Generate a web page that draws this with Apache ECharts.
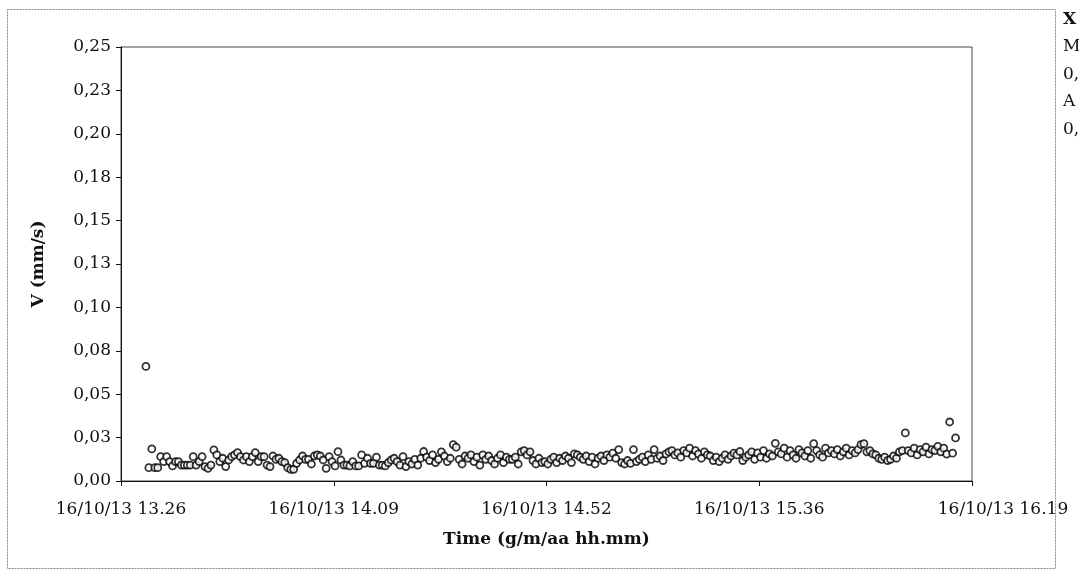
<!DOCTYPE html>
<html>
<head>
<meta charset="utf-8">
<script src="https://cdn.jsdelivr.net/npm/echarts@6/dist/echarts.min.js"></script>
<style>
html,body{margin:0;padding:0;background:#fff;}
#chart{width:1079px;height:570px;}
</style>
</head>
<body>
<div id="chart"></div>
<script>
// Tick labels
const yTickLabels = ['0,00','0,03','0,05','0,08','0,10','0,13','0,15','0,18','0,20','0,23','0,25'];
const xTickLabels = ['16/10/13 13.26','16/10/13 14.09','16/10/13 14.52','16/10/13 15.36','16/10/13 16.19'];
const sideLabels = ['X','M','0,','A','0,'];

// Sampling grid: minutes after 16/10/13 13:26:24
const sampleStartMin = 5.06;
const sampleStepMin = 0.6;

// Velocity samples V (mm/s)
const velocity = [
 0.0660,0.0077,0.0185,0.0077,0.0077,0.0140,0.0112,0.0140,0.0112,0.0087,
 0.0112,0.0112,0.0092,0.0092,0.0092,0.0092,0.0140,0.0092,0.0112,0.0140,
 0.0083,0.0073,0.0092,0.0179,0.0150,0.0112,0.0131,0.0083,0.0121,0.0140,
 0.0150,0.0164,0.0140,0.0121,0.0140,0.0112,0.0140,0.0164,0.0112,0.0140,
 0.0140,0.0092,0.0083,0.0144,0.0125,0.0131,0.0112,0.0106,0.0077,0.0067,
 0.0067,0.0102,0.0121,0.0144,0.0125,0.0125,0.0098,0.0144,0.0150,0.0144,
 0.0121,0.0073,0.0140,0.0112,0.0087,0.0169,0.0121,0.0092,0.0092,0.0087,
 0.0112,0.0087,0.0087,0.0150,0.0102,0.0131,0.0102,0.0102,0.0137,0.0092,
 0.0092,0.0087,0.0106,0.0121,0.0131,0.0112,0.0092,0.0140,0.0083,
 0.0112,0.0098,0.0125,0.0092,0.0131,0.0170,0.0137,0.0118,0.0150,0.0106,
 0.0125,0.0168,0.0144,0.0112,0.0131,
 0.0210,0.0195,0.0125,
 0.0098,0.0144,0.0131,0.0150,0.0112,0.0137,0.0092,0.0150,0.0125,0.0144,
 0.0118,0.0098,0.0131,0.0150,0.0106,0.0137,0.0125,0.0125,0.0137,0.0098,
 0.0168,0.0175,0.0150,0.0168,
 0.0118,0.0098,0.0131,0.0106,
 0.0112,0.0098,0.0125,0.0137,0.0106,0.0131,0.0118,0.0144,0.0131,0.0106,
 0.0156,0.0150,0.0137,
 0.0125,0.0144,0.0112,0.0137,0.0098,0.0131,0.0144,0.0118,0.0150,0.0137,0.0160,0.0131,
 0.0181,
 0.0106,0.0098,0.0118,0.0102,0.0181,0.0112,0.0125,
 0.0137,0.0112,0.0150,0.0125,0.0181,0.0131,0.0144,0.0118,0.0156,
 0.0168,0.0175,0.0150,0.0162,0.0137,
 0.0175,0.0162,0.0189,0.0144,0.0175,0.0156,0.0131,0.0168,0.0150,0.0144,
 0.0118,0.0137,0.0112,0.0131,0.0150,0.0125,0.0144,
 0.0160,0.0150,0.0170,0.0118,0.0137,
 0.0150,0.0168,0.0125,0.0162,0.0137,0.0175,0.0131,0.0156,0.0144,
 0.0217,
 0.0168,0.0156,0.0189,0.0137,0.0175,0.0150,0.0131,0.0181,0.0162,0.0144,0.0175,0.0131,
 0.0215,
 0.0175,0.0150,0.0137,0.0189,0.0162,0.0175,0.0156,0.0181,0.0144,0.0168,0.0189,0.0150,0.0175,0.0162,0.0181,
 0.0210,0.0215,
 0.0168,0.0175,0.0156,0.0150,
 0.0131,0.0125,0.0137,0.0118,0.0125,0.0144,0.0131,
 0.0168,0.0175,0.0277,
 0.0175,0.0162,0.0189,0.0150,0.0181,0.0168,0.0195,0.0156,0.0181,0.0175,0.0200,0.0168,0.0189,
 0.0155,0.0340,0.0160,0.0248
];

const xInterval = 43.2;
const points = velocity.map((v, i) => [sampleStartMin + i * sampleStepMin, v]);

const serif = 'DejaVu Serif';
const chart = echarts.init(document.getElementById('chart'));
chart.setOption({
  animation: false,
  backgroundColor: '#fff',
  grid: {
    left: 121, right: 107, top: 47, bottom: 89,
    show: true, borderColor: '#444', borderWidth: 1, backgroundColor: 'transparent'
  },
  xAxis: {
    type: 'value',
    min: 0, max: xInterval * (xTickLabels.length - 1), interval: xInterval,
    name: 'Time (g/m/aa hh.mm)', nameLocation: 'middle', nameGap: 50,
    nameTextStyle: { fontFamily: serif, fontWeight: 'bold', fontSize: 17, color: '#111' },
    axisLine: { show: true, lineStyle: { color: '#111', width: 1 } },
    axisTick: { show: true, inside: false, length: 5, lineStyle: { color: '#111' } },
    splitLine: { show: false },
    axisLabel: {
      margin: 20, fontFamily: serif, fontSize: 17, color: '#111',
      formatter: function (v) {
        const idx = Math.round(v / xInterval);
        const t = xTickLabels[idx] || '';
        return idx === xTickLabels.length - 1 ? '{last|' + t + '}' : t;
      },
      rich: { last: { fontFamily: serif, fontSize: 17, color: '#111', padding: [0, 0, 10, 62] } }
    }
  },
  yAxis: {
    type: 'value',
    min: 0, max: 0.25, interval: 0.025,
    name: 'V (mm/s)', nameLocation: 'middle', nameGap: 74,
    nameTextStyle: { fontFamily: serif, fontWeight: 'bold', fontSize: 17, color: '#111' },
    axisLine: { show: true, lineStyle: { color: '#111', width: 1 } },
    axisTick: { show: true, inside: false, length: 5, lineStyle: { color: '#111' } },
    splitLine: { show: false },
    axisLabel: {
      margin: 10, fontFamily: serif, fontSize: 17, color: '#111',
      formatter: function (v) { return yTickLabels[Math.round(v / 0.025)] || ''; }
    }
  },
  series: [{
    type: 'scatter',
    data: points,
    symbol: 'circle',
    symbolSize: 7,
    itemStyle: { color: '#fff', borderColor: '#000', borderWidth: 1.8 }
  }],
  graphic: [
    { type: 'rect', left: 5, top: 7, shape: { width: 1048, height: 559 },
      style: { fill: 'none', stroke: '#888', lineWidth: 1, lineDash: [2, 1] }, silent: true, z: -1 }
  ].concat(sideLabels.map((s, i) => ({
    type: 'text', left: 1063, top: 11 + i * 27.5,
    style: { text: s, fontFamily: serif, fontSize: 17, fontWeight: i === 0 ? 'bold' : 'normal', fill: '#111' }
  })))
});
</script>
</body>
</html>
